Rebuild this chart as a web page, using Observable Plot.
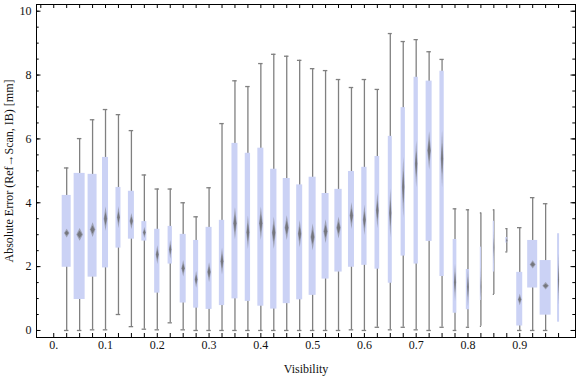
<!DOCTYPE html>
<html><head><meta charset="utf-8">
<script src="https://cdn.jsdelivr.net/npm/d3@7"></script>
<script src="https://cdn.jsdelivr.net/npm/@observablehq/plot@0.6"></script>
<style>body{margin:0;background:#fff}</style>
</head><body><div id="chart"></div>
<script>
const visibility = [0.025,0.05,0.075,0.1,0.125,0.15,0.175,0.2,0.225,0.25,0.275,0.3,0.325,0.35,0.375,0.4,0.425,0.45,0.475,0.5,0.525,0.55,0.575,0.6,0.625,0.65,0.675,0.7,0.725,0.75,0.775,0.8,0.825,0.85,0.875,0.9,0.925,0.95,0.975];
const whiskerLow  = [0.00,0.00,0.02,0.02,0.50,0.12,0.04,0.02,0.24,0.02,0.00,0.00,0.00,0.00,0.00,0.00,0.00,0.00,0.00,0.00,0.00,0.00,0.02,0.00,0.10,0.02,0.10,0.02,0.00,0.10,0.00,0.10,0.13,1.13,2.46,0.00,0.00,0.00,null];
const quartile1   = [1.98,0.97,1.67,1.96,2.58,2.86,2.80,1.17,2.08,0.86,0.70,0.66,0.78,0.99,0.91,0.76,0.67,0.84,0.96,1.10,1.61,1.83,1.98,2.04,1.92,1.48,2.33,2.08,2.79,1.69,0.54,0.65,0.94,1.83,2.74,0.14,1.33,0.48,0.26];
const medianValue = [3.05,3.01,3.16,3.50,3.55,3.43,3.07,2.38,2.54,1.95,1.60,1.83,2.17,3.36,3.08,3.36,3.06,3.22,3.03,2.93,3.11,3.22,3.60,3.47,3.76,3.68,4.49,5.22,5.64,5.38,1.51,1.36,1.36,2.60,2.82,0.97,2.07,1.40,1.60];
const quartile3   = [4.23,4.92,4.89,5.42,4.48,4.36,3.41,3.17,3.26,3.01,2.82,3.23,3.45,5.86,5.55,5.71,5.05,4.76,4.56,4.80,4.29,4.42,4.98,5.11,5.45,6.08,6.98,7.93,7.81,8.12,2.85,1.91,2.61,3.42,2.91,1.82,2.82,2.19,3.03];
const whiskerHigh = [5.09,6.01,6.60,6.92,6.76,6.26,4.87,4.43,4.43,4.00,3.56,4.47,6.48,7.82,7.64,8.36,8.65,8.59,8.46,8.20,8.14,7.86,7.61,7.86,7.55,9.30,9.05,9.11,8.73,8.49,3.81,3.78,3.68,3.78,3.19,3.22,4.16,3.97,null];
// relative sample weight (drives box width) and median uncertainty (drives diamond height)
const sampleWeight = [9,11,9,6,5,6,5,5.3,4.3,6,5,6,5.3,6,5.3,6,6.3,7,6,7,7,7.3,6,5.3,4.7,4,4.3,4.3,6,4.3,3.7,3.3,1.2,1.2,2,6,10,11,2];
const medianSpread = [0.14,0.20,0.23,0.38,0.34,0.25,0.17,0.29,0.29,0.26,0.26,0.31,0.42,0.50,0.52,0.52,0.50,0.39,0.42,0.42,0.37,0.34,0.42,0.47,0.55,0.76,0.94,0.73,0.60,0.89,0.58,0.60,0.60,0.50,0.10,0.18,0.13,0.12,0.80];

const xTickValues = [0,0.1,0.2,0.3,0.4,0.5,0.6,0.7,0.8,0.9];
const xTickLabels = ["0.","0.1","0.2","0.3","0.4","0.5","0.6","0.7","0.8","0.9"];
const yTickValues = [0,2,4,6,8,10];
const yMinorTicks = [0,0.5,1,1.5,2,2.5,3,3.5,4,4.5,5,5.5,6,6.5,7,7.5,8,8.5,9,9.5,10];
const xMinorBottom = [0, ...visibility];
const xMinorTop = [-0.025, 0, ...visibility];

const W = 576, H = 377, mL = 36, mR = 1, mT = 4, mB = 40;
const plotW = W - mL - mR, plotH = H - mT - mB;
const xDomain = [-0.0333, 1.0077];
const widthUnit = (xDomain[1] - xDomain[0]) / plotW; // one pixel in x units

const boxes = visibility.map((x, i) => ({
  x, lo: whiskerLow[i], q1: quartile1[i], med: medianValue[i], q3: quartile3[i], hi: whiskerHigh[i],
  w: sampleWeight[i] * widthUnit, cap: Math.min(sampleWeight[i], 4.5) * widthUnit, h: medianSpread[i]
}));
const withWhiskers = boxes.filter(d => d.lo != null);
const caps = withWhiskers.flatMap(d => [
  {y: d.lo, x1: d.x - d.cap / 2, x2: d.x + d.cap / 2},
  {y: d.hi, x1: d.x - d.cap / 2, x2: d.x + d.cap / 2}
]);
function diamonds(fh, fw) {
  return boxes.flatMap((d, i) => {
    const hw = d.w * 0.3 * fw, hh = d.h * fh;
    return [
      {id: i, x: d.x, y: d.med + hh},
      {id: i, x: d.x + hw, y: d.med},
      {id: i, x: d.x, y: d.med - hh},
      {id: i, x: d.x - hw, y: d.med},
      {id: i, x: d.x, y: d.med + hh}
    ];
  });
}

const chart = Plot.plot({
  width: W, height: H,
  marginLeft: mL, marginRight: mR, marginTop: mT, marginBottom: mB,
  style: {fontFamily: "'Liberation Serif', 'DejaVu Serif', serif", fontSize: "12px", background: "#fff"},
  x: {domain: xDomain},
  y: {domain: [-0.22, 10.21]},
  marks: [
    Plot.ruleX(withWhiskers, {x: "x", y1: "lo", y2: "hi", stroke: "#808080", strokeWidth: 1.3}),
    Plot.ruleY(caps, {y: "y", x1: "x1", x2: "x2", stroke: "#808080", strokeWidth: 1.3}),
    Plot.rect(boxes, {x1: d => d.x - d.w / 2, x2: d => d.x + d.w / 2, y1: "q1", y2: "q3", fill: "#cbd2f5"}),
    Plot.line(diamonds(1, 1), {x: "x", y: "y", z: "id", fill: "#707070", fillOpacity: 0.5, stroke: null, curve: "linear", className: "diamond"}),
    Plot.line(diamonds(0.55, 0.75), {x: "x", y: "y", z: "id", fill: "#5a5a5a", fillOpacity: 0.6, stroke: null, curve: "linear", className: "diamond"}),
    Plot.frame({stroke: "#000"}),
    Plot.tickY(yMinorTicks, {y: d => d, insetRight: plotW - 2.7, stroke: "#000"}),
    Plot.tickY(yTickValues, {y: d => d, insetRight: plotW - 4.5, stroke: "#000"}),
    Plot.tickY(yMinorTicks, {y: d => d, insetLeft: plotW - 2.7, stroke: "#000"}),
    Plot.tickY(yTickValues, {y: d => d, insetLeft: plotW - 4.5, stroke: "#000"}),
    Plot.tickX(xMinorBottom, {x: d => d, insetTop: plotH - 4, stroke: "#000"}),
    Plot.tickX(xMinorTop, {x: d => d, insetBottom: plotH - 4, stroke: "#000"}),
    Plot.axisX({ticks: xTickValues, tickFormat: (d, i) => xTickLabels[i], tickSize: 0, tickPadding: 3, label: null, fill: "#111"}),
    Plot.axisY({ticks: yTickValues, tickFormat: d => String(d), tickSize: 0, tickPadding: 5, label: null, fill: "#111"}),
    Plot.text(["Visibility"], {frameAnchor: "bottom", dy: 32, lineAnchor: "middle", fill: "#111", fontSize: 12}),
    Plot.text(["Absolute Error (Ref\u2192Scan, IB) [mm]"], {frameAnchor: "left", dx: -27, rotate: -90, textAnchor: "middle", lineAnchor: "middle", fill: "#111", fontSize: 12})
  ]
});
document.getElementById("chart").appendChild(chart);
chart.querySelectorAll('path').forEach(p => {
  const g = p.parentNode;
  if (g && g.getAttribute && g.getAttribute("fill-opacity") && g.getAttribute("fill") && g.getAttribute("fill") !== "#cbd2f5") g.style.filter = "blur(0.6px)";
});
</script></body></html>
